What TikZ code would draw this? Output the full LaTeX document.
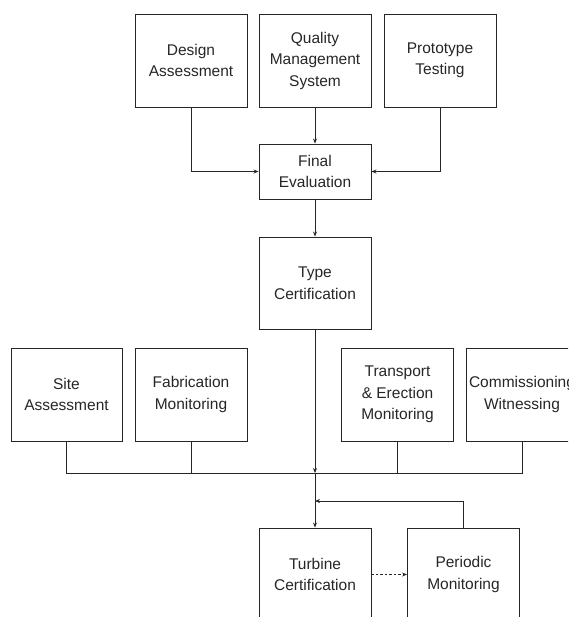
\documentclass[tikz,border=0pt]{standalone}
\usepackage{fontspec}
\setmainfont{Liberation Sans}
\usetikzlibrary{arrows.meta}
\begin{document}
\begin{tikzpicture}[x=1pt,y=-1pt,
  box/.style={draw=black!85,line width=0.9pt,minimum width=112pt,minimum height=93pt,
    inner sep=0pt,align=center,font=\fontsize{15.5}{21.5}\selectfont,text=black!85},
  conn/.style={draw=black!85,line width=0.8pt},
  arr/.style={conn,-{Stealth[length=5pt,width=4pt]}}]
\useasboundingbox (0,0) rectangle (568,617);
\clip (0,0) rectangle (568,617);
\node[box] (da) at (191,60.5) {Design\\Assessment};
\node[box] (qms) at (315,60.5) {Quality\\Management\\System};
\node[box] (pt) at (440,60.5) {Prototype\\Testing};
\node[box,minimum height=55pt] (fe) at (315,171.5) {Final\\Evaluation};
\node[box,minimum height=92pt] (tc) at (315,283) {Type\\Certification};
\node[box,minimum width=111pt] (sa) at (66.5,394.5) {Site\\Assessment};
\node[box] (fm) at (191,394.5) {Fabrication\\Monitoring};
\node[box] (tem) at (397.5,394.5) {Transport\\\& Erection\\Monitoring};
\node[box] (cw) at (522,394.5) {Commissioning\\Witnessing};
\node[box] (tur) at (315,574.5) {Turbine\\Certification};
\node[box] (pm) at (463.5,574.5) {Periodic\\Monitoring};
\coordinate (bus) at (315,473);
\coordinate (fb) at (315,501);
\draw[arr] (da.south) |- (fe.west);
\draw[arr] (qms.south) -- (fe.north);
\draw[arr] (pt.south) |- (fe.east);
\draw[arr] (fe.south) -- (tc.north);
\draw[arr] (tc.south) -- (bus);
\draw[arr] (bus) -- (tur.north);
\draw[conn] (sa.south) |- (bus);
\draw[conn] (fm.south) -- (fm.south |- bus);
\draw[conn] (cw.south) |- (bus);
\draw[conn] (tem.south) -- (tem.south |- bus);
\draw[arr] (pm.north) |- (fb);
\draw[arr,dashed,dash pattern=on 2.5pt off 2pt] (tur.east) -- (pm.west);
\end{tikzpicture}
\end{document}
